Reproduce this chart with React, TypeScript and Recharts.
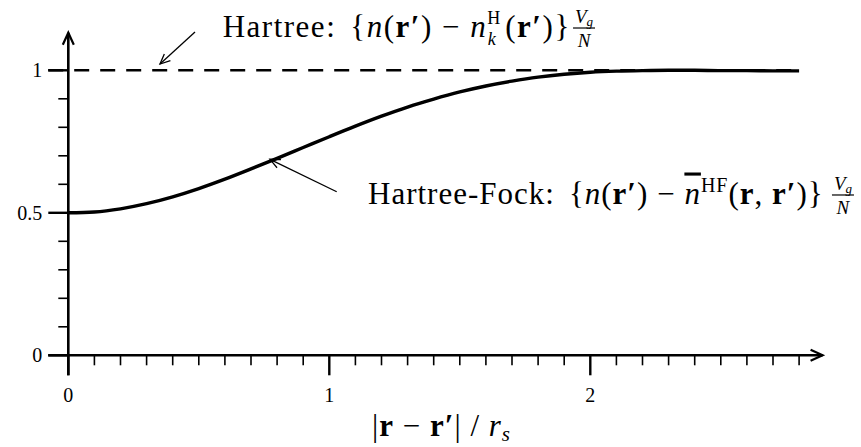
import React from 'react'
import { LineChart, Line, XAxis, YAxis, ReferenceLine, ReferenceDot } from 'recharts'

// r / r_s sampled along the Hartree-Fock curve
const hfX = [0, 0.1, 0.2, 0.3, 0.4, 0.5, 0.6, 0.7, 0.8, 0.9, 1.0, 1.1, 1.2, 1.3, 1.4,
  1.5, 1.6, 1.7, 1.8, 1.9, 2.0, 2.1, 2.2, 2.3, 2.4, 2.5, 2.6, 2.7, 2.8]
const hfY = [0.5, 0.503, 0.514, 0.532, 0.556, 0.585, 0.618, 0.654, 0.691, 0.729, 0.767,
  0.804, 0.839, 0.871, 0.899, 0.924, 0.945, 0.962, 0.976, 0.986, 0.993, 0.997, 0.999,
  1.0, 1.0, 0.999, 0.999, 0.998, 0.998]
const hartreeLevel = 1

const xMajorTicks = [0, 1, 2]
const xMinorTicks = [0.1, 0.2, 0.3, 0.4, 0.5, 0.6, 0.7, 0.8, 0.9, 1.1, 1.2, 1.3, 1.4,
  1.5, 1.6, 1.7, 1.8, 1.9, 2.1, 2.2, 2.3, 2.4, 2.5, 2.6, 2.7, 2.8]
const yMajorTicks = [0, 0.5, 1]
const yMajorLabels = ['0', '0.5', '1']
const yMinorTicks = [0.1, 0.2, 0.3, 0.4, 0.6, 0.7, 0.8, 0.9]

const data = hfX.map((x, i) => ({ x, hf: hfY[i] }))

const SERIF = '"Liberation Serif", "Times New Roman", serif'
const INK = '#000'

function arrowPath(x1: number, y1: number, x2: number, y2: number, len: number, half: number) {
  const dx = x2 - x1
  const dy = y2 - y1
  const d = Math.hypot(dx, dy) || 1
  const ux = dx / d
  const uy = dy / d
  const bx = x2 - ux * len
  const by = y2 - uy * len
  return `M${bx - uy * half},${by + ux * half} L${x2},${y2} L${bx + uy * half},${by - ux * half}`
}

const axisShape = (p: any) => (
  <g>
    <line x1={p.x1} y1={p.y1} x2={p.x2} y2={p.y2} stroke={INK} strokeWidth={2.6} />
    <path d={arrowPath(p.x1, p.y1, p.x2, p.y2, 12, 5.5)} fill="none" stroke={INK} strokeWidth={2.2} />
  </g>
)

const pointerShape = (p: any) => (
  <g>
    <line x1={p.x1} y1={p.y1} x2={p.x2} y2={p.y2} stroke={INK} strokeWidth={1.3} />
    <path d={arrowPath(p.x1, p.y1, p.x2, p.y2, 10, 4.5)} fill="none" stroke={INK} strokeWidth={1.3} />
  </g>
)

const xTick = (len: number, width: number, label?: string) => (p: any) => (
  <g>
    <line x1={p.cx} y1={p.cy} x2={p.cx} y2={p.cy + len} stroke={INK} strokeWidth={width} />
    {label !== undefined && (
      <text x={p.cx} y={p.cy + 47} textAnchor="middle" fontFamily={SERIF} fontSize={20} fill={INK}>
        {label}
      </text>
    )}
  </g>
)

const yTick = (len: number, width: number, label?: string) => (p: any) => (
  <g>
    <line x1={p.cx - len} y1={p.cy} x2={p.cx} y2={p.cy} stroke={INK} strokeWidth={width} />
    {label !== undefined && (
      <text x={p.cx - len - 6} y={p.cy + 7} textAnchor="end" fontFamily={SERIF} fontSize={20} fill={INK}>
        {label}
      </text>
    )}
  </g>
)

const fractionShape = (p: any) => (
  <g fontFamily={SERIF} fill={INK}>
    <line x1={p.cx - 11} y1={p.cy} x2={p.cx + 11} y2={p.cy} stroke={INK} strokeWidth={1.2} />
    <text x={p.cx} y={p.cy - 5} textAnchor="middle" fontSize={19} fontStyle="italic">
      V<tspan fontSize={13} dy={3}>g</tspan>
    </text>
    <text x={p.cx} y={p.cy + 19} textAnchor="middle" fontSize={19} fontStyle="italic">N</text>
  </g>
)

const hartreeShape = (p: any) => (
  <text x={p.cx} y={p.cy} fontFamily={SERIF} fontSize={31} letterSpacing={1.5} fill={INK}>
    <tspan>Hartree:</tspan>
    <tspan dx={14}>{'{'}</tspan>
    <tspan fontStyle="italic">n</tspan>
    <tspan>(</tspan>
    <tspan fontWeight="bold">r′</tspan>
    <tspan>{') − '}</tspan>
    <tspan fontStyle="italic">n</tspan>
    <tspan fontSize={18} dy={-13}>H</tspan>
    <tspan fontSize={18} fontStyle="italic" dx={-14} dy={21}>k</tspan>
    <tspan dx={8} dy={-8}>(</tspan>
    <tspan fontWeight="bold">r′</tspan>
    <tspan>{')}'}</tspan>
  </text>
)

const hfShape = (p: any) => (
  <text x={p.cx} y={p.cy} fontFamily={SERIF} fontSize={31} letterSpacing={1} fill={INK}>
    <tspan>Hartree-Fock:</tspan>
    <tspan dx={14}>{'{'}</tspan>
    <tspan fontStyle="italic">n</tspan>
    <tspan>(</tspan>
    <tspan fontWeight="bold">r′</tspan>
    <tspan>{') − '}</tspan>
    <tspan fontStyle="italic" style={{ textDecoration: 'overline' }}>n</tspan>
    <tspan fontSize={20} dy={-12}>HF</tspan>
    <tspan dy={12}>(</tspan>
    <tspan fontWeight="bold">r</tspan>
    <tspan>{', '}</tspan>
    <tspan fontWeight="bold">r′</tspan>
    <tspan>{')}'}</tspan>
  </text>
)

const xLabelShape = (p: any) => (
  <text x={p.cx} y={p.cy} fontFamily={SERIF} fontSize={31} letterSpacing={1} fill={INK}>
    <tspan>|</tspan>
    <tspan fontWeight="bold">r</tspan>
    <tspan>{' − '}</tspan>
    <tspan fontWeight="bold">r′</tspan>
    <tspan>{'| / '}</tspan>
    <tspan fontStyle="italic">r</tspan>
    <tspan fontStyle="italic" fontSize={21} dy={5}>s</tspan>
  </text>
)

export default function App() {
  return (
    <div style={{ position: 'absolute', left: 0, top: 0, background: '#fff' }}>
      <LineChart
        width={861}
        height={447}
        data={data}
        margin={{ top: 13.3, right: 9.7, bottom: 0.5, left: 3.05 }}
      >
        <XAxis type="number" dataKey="x" domain={[-0.25, 3]} allowDataOverflow hide />
        <YAxis type="number" domain={[-0.32, 1.2]} allowDataOverflow hide />

        <ReferenceLine
          segment={[{ x: -0.077, y: hartreeLevel }, { x: 2.8, y: hartreeLevel }]}
          stroke={INK}
          strokeWidth={2.6}
          strokeDasharray="15 11"
          ifOverflow="visible"
        />

        <Line
          type="monotone"
          dataKey="hf"
          stroke={INK}
          strokeWidth={3.4}
          dot={false}
          isAnimationActive={false}
        />

        <ReferenceLine segment={[{ x: -0.077, y: 0 }, { x: 2.89, y: 0 }]} shape={axisShape} ifOverflow="visible" />
        <ReferenceLine segment={[{ x: 0, y: -0.07 }, { x: 0, y: 1.132 }]} shape={axisShape} ifOverflow="visible" />

        {xMinorTicks.map((t) => (
          <ReferenceDot key={`xm${t}`} x={t} y={0} shape={xTick(10, 1.6)} ifOverflow="visible" />
        ))}
        {xMajorTicks.map((t) => (
          <ReferenceDot key={`xM${t}`} x={t} y={0} shape={xTick(20, 2.4, String(t))} ifOverflow="visible" />
        ))}
        {yMinorTicks.map((t) => (
          <ReferenceDot key={`ym${t}`} x={0} y={t} shape={yTick(10, 1.6)} ifOverflow="visible" />
        ))}
        {yMajorTicks.map((t, i) => (
          <ReferenceDot key={`yM${t}`} x={0} y={t} shape={yTick(20, 2.4, yMajorLabels[i])} ifOverflow="visible" />
        ))}

        <ReferenceLine segment={[{ x: 0.4854, y: 1.1344 }, { x: 0.3513, y: 1.0221 }]} shape={pointerShape} ifOverflow="visible" />
        <ReferenceLine segment={[{ x: 1.0284, y: 0.574 }, { x: 0.7728, y: 0.6877 }]} shape={pointerShape} ifOverflow="visible" />

        <ReferenceDot x={0.5916} y={1.1158} shape={hartreeShape} ifOverflow="visible" />
        <ReferenceDot x={1.976} y={1.1484} shape={fractionShape} ifOverflow="visible" />
        <ReferenceDot x={1.1483} y={0.5326} shape={hfShape} ifOverflow="visible" />
        <ReferenceDot x={2.968} y={0.5625} shape={fractionShape} ifOverflow="visible" />
        <ReferenceDot x={1.1636} y={-0.2832} shape={xLabelShape} ifOverflow="visible" />
      </LineChart>
    </div>
  )
}
